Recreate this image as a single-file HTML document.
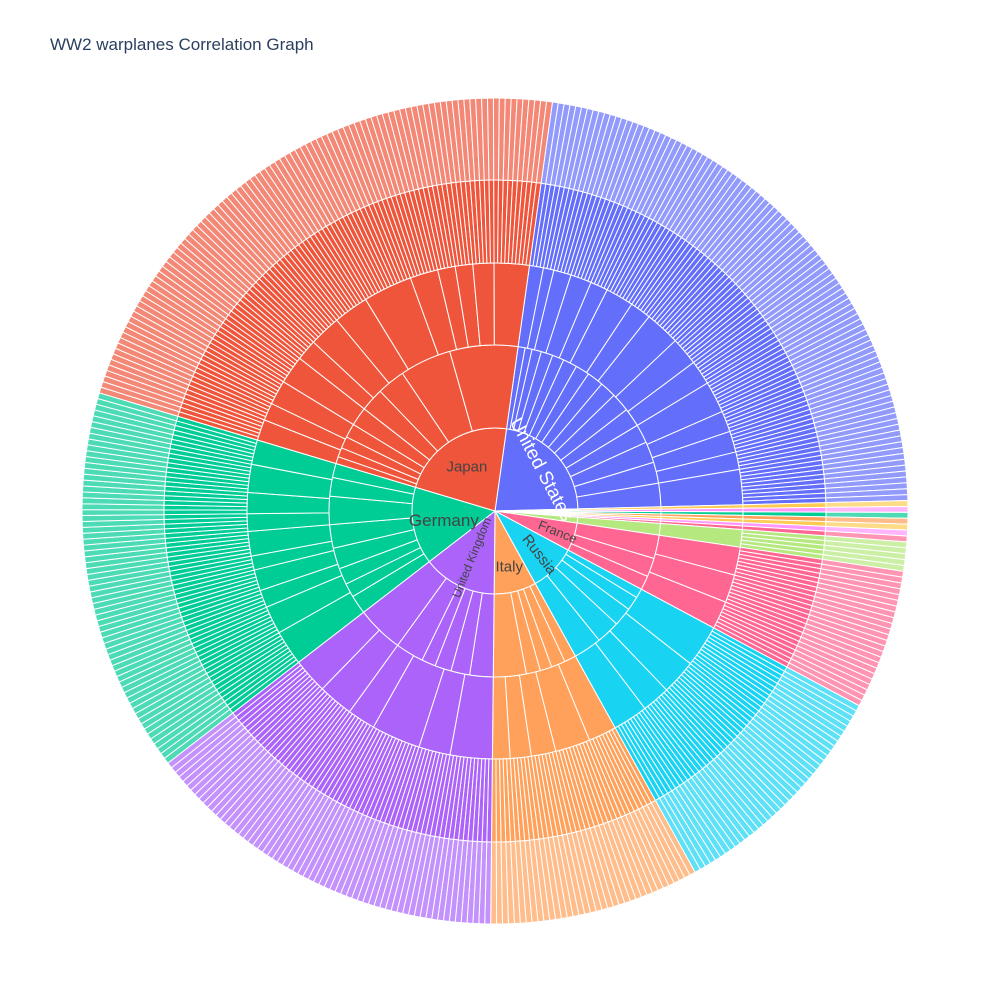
<!DOCTYPE html>
<html><head><meta charset="utf-8"><style>
html,body{margin:0;padding:0;background:#fff;width:990px;height:1000px;overflow:hidden;font-family:"Liberation Sans",sans-serif}
</style></head><body>
<svg id="chart" width="990" height="1000">
<text x="50" y="50" font-size="17" fill="#2a3f5f" font-family="Liberation Sans, sans-serif">WW2 warplanes Correlation Graph</text>
<g id="rings"></g>
<g id="labels"></g>
</svg>
<script>
// clockwise order starting near top
const countries = ["United States","Other A","Other B","Other C","Other D","Other E","Other F","Other G","Poland","France","Russia","Italy","United Kingdom","Germany","Japan"];
const countryValues = [98,1,1,1,1,1,1,1,5,24,40,36,63,66,99];
const countryColors = ["#636efa","#FECB52","#FF97FF","#00cc96","#FFA15A","#FECB52","#FF97FF","#FF6692","#B6E880","#FF6692","#19d3f3","#FFA15A","#ab63fa","#00cc96","#EF553B"];
const manufacturerValues = [
 [3,3,4,5,5,6,6,7,7,8,8,8,9,9,10],[1],[1],[1],[1],[1],[1],[1],[5],[10,8,6],[4,6,8,10,12],[5,6,5,6,14],[10,8,7,6,12,20],[8,6,7,9,10,12,8,6],[3,4,5,6,8,10,12,22,29]
];
const typeValues = [
 [4,3,5,6,5,8,6,10,8,7,9,6,6,5,10],[1],[1],[1],[1],[1],[1],[1],[5],[8,8,8],[12,10,8,10],[8,10,7,6,5],[12,9,14,8,10,10],[10,8,5,6,4,7,5,6,8,7],[6,5,7,8,6,9,10,14,8,5,5,6,10]
];
const startAngle = 8;
const cx = 495, cy = 511;
const radii = [0,83,166,248,331,413];

const total = countryValues.reduce((a,b)=>a+b,0);
const degPer = 360/total;
function pt(r,a){const t=a*Math.PI/180;return [cx+r*Math.sin(t), cy-r*Math.cos(t)];}
function arc(r0,r1,a0,a1){
  const large=(a1-a0)>180?1:0;
  const [x1,y1]=pt(r1,a0),[x2,y2]=pt(r1,a1);
  if(r0===0){return `M${cx},${cy}L${x1},${y1}A${r1},${r1} 0 ${large} 1 ${x2},${y2}Z`;}
  const [x3,y3]=pt(r0,a1),[x4,y4]=pt(r0,a0);
  return `M${x1},${y1}A${r1},${r1} 0 ${large} 1 ${x2},${y2}L${x3},${y3}A${r0},${r0} 0 ${large} 0 ${x4},${y4}Z`;
}
function lighten(hex,f){const n=parseInt(hex.slice(1),16);let r=n>>16,g=(n>>8)&255,b=n&255;
 r=Math.round(r+(255-r)*f);g=Math.round(g+(255-g)*f);b=Math.round(b+(255-b)*f);return `rgb(${r},${g},${b})`;}
const NS="http://www.w3.org/2000/svg";
const rings=document.getElementById('rings');
const labels=document.getElementById('labels');
function slice(r0,r1,a0,a1,fill,name){
  const p=document.createElementNS(NS,'path');
  p.setAttribute('d',arc(r0,r1,a0,a1));
  p.setAttribute('fill',fill);
  p.setAttribute('stroke','#fff');
  p.setAttribute('stroke-width','1');
  
  
  rings.appendChild(p);
}
function splitRing(vals,a0,span,r0,r1,fill,name){
  const s=vals.reduce((a,b)=>a+b,0);let a=a0;
  vals.forEach(v=>{const w=span*v/s;slice(r0,r1,a,a+w,fill,name);a+=w;});
}
let ang=startAngle;
const mids={};
countries.forEach((c,i)=>{
  const span=countryValues[i]*degPer;
  const col=countryColors[i];
  slice(radii[0],radii[1],ang,ang+span,col,'country-'+c.toLowerCase().replace(/\s+/g,'-'));
  splitRing(manufacturerValues[i],ang,span,radii[1],radii[2],col,'manufacturer-slice');
  splitRing(typeValues[i],ang,span,radii[2],radii[3],col,'type-slice');
  const ones=new Array(countryValues[i]).fill(1);
  splitRing(ones,ang,span,radii[3],radii[4],col,'model-slice');
  splitRing(ones,ang,span,radii[4],radii[5],lighten(col,0.3),'status-slice');
  mids[c]=ang+span/2;
  ang+=span;
});
// label style: [radius, rotation, font size, color]
const labelStyle = {
  "United States":[62,62,19,'#fff'],
  "Japan":[52,0,15,'#444'],
  "Germany":[52,0,17,'#444'],
  "United Kingdom":[52,-68,12,'#444'],
  "Italy":[58,0,15,'#444'],
  "Russia":[62,52,15,'#444'],
  "France":[66,22,13,'#444']
};
Object.keys(labelStyle).forEach(c=>{
  const [r,rot,fs,col]=labelStyle[c];
  const [tx,ty]=pt(r,mids[c]);
  const t=document.createElementNS(NS,'text');
  t.setAttribute('x',tx);t.setAttribute('y',ty);
  t.setAttribute('text-anchor','middle');t.setAttribute('dominant-baseline','central');
  if(rot) t.setAttribute('transform',`rotate(${rot} ${tx} ${ty})`);
  t.setAttribute('font-size',fs);
  t.setAttribute('fill',col);
  t.textContent=c;
  
  
  labels.appendChild(t);
});
</script>
</body></html>
